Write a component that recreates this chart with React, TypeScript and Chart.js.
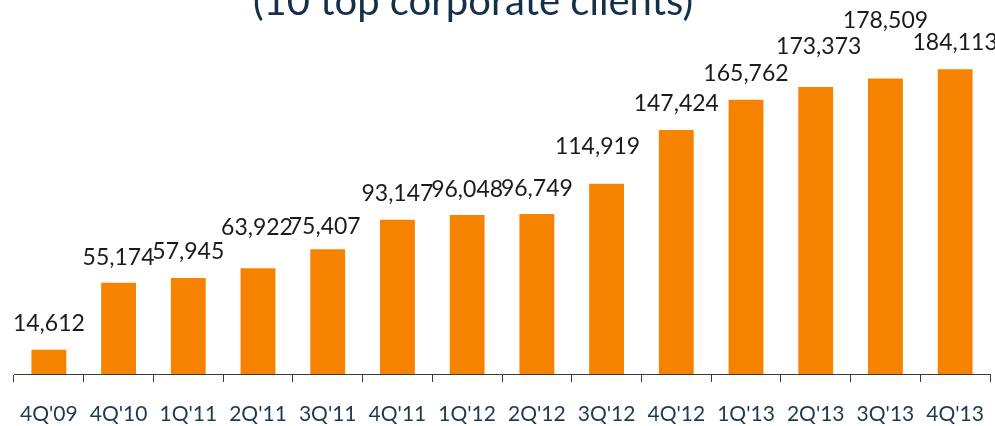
import React, { useEffect, useRef } from "react";
import { Chart, registerables } from "chart.js";

Chart.register(...registerables);

const categories = ["4Q'09", "4Q'10", "1Q'11", "2Q'11", "3Q'11", "4Q'11", "1Q'12", "2Q'12", "3Q'12", "4Q'12", "1Q'13", "2Q'13", "3Q'13", "4Q'13"];
const clientValues = [14612, 55174, 57945, 63922, 75407, 93147, 96048, 96749, 114919, 147424, 165762, 173373, 178509, 184113];
const titleText = "(10 top corporate clients)";

// label styling: vertical gap above bar top, horizontal nudge (px)
const labelGap = [19, 18, 19, 33, 15, 19, 18, 18, 30, 19, 19, 33, 51, 19];
const labelNudge = [0, 0, 0, -1, -3, 0, 0, 0, -9, 0, 0, 3, 0, 0];

const FONT = "Lato, 'Open Sans', sans-serif";

const valueLabels = {
  id: "valueLabels",
  afterDatasetsDraw(chart: any) {
    const ctx = chart.ctx;
    const meta = chart.getDatasetMeta(0);
    ctx.save();
    ctx.font = `23px ${FONT}`;
    ctx.fillStyle = "#1b1b1b";
    ctx.textAlign = "center";
    ctx.textBaseline = "alphabetic";
    meta.data.forEach((bar: any, i: number) => {
      const v = clientValues[i];
      ctx.fillText(v.toLocaleString("en-US"), bar.x + labelNudge[i], bar.y - labelGap[i]);
    });
    ctx.restore();
  },
};

const topTitle = {
  id: "topTitle",
  afterDraw(chart: any) {
    const ctx = chart.ctx;
    ctx.save();
    ctx.font = `40px ${FONT}`;
    ctx.fillStyle = "#14304a";
    ctx.textAlign = "center";
    ctx.textBaseline = "alphabetic";
    ctx.fillText(titleText, 473, 15);
    ctx.restore();
  },
};

export default function App() {
  const ref = useRef<HTMLCanvasElement>(null);
  useEffect(() => {
    document.body.style.margin = "0";
    const chart = new Chart(ref.current!, {
      type: "bar",
      data: {
        labels: categories,
        datasets: [
          {
            data: clientValues,
            backgroundColor: "#f68300",
            barPercentage: 0.5,
            categoryPercentage: 1.0,
          },
        ],
      },
      options: {
        animation: false,
        responsive: false,
        maintainAspectRatio: false,
        layout: { padding: { left: 14, right: 5, top: 43, bottom: 0 } },
        plugins: { legend: { display: false }, tooltip: { enabled: false }, title: { display: false } },
        scales: {
          x: {
            offset: true,
            afterFit(scale: any) {
              scale.height = 52;
              scale.paddingLeft = 0;
              scale.paddingRight = 0;
            },
            grid: {
              display: true,
              offset: true,
              drawOnChartArea: false,
              drawTicks: true,
              tickLength: 8,
              color: "#3a3a3a",
            },
            border: { display: true, color: "#3a3a3a", width: 1 },
            ticks: {
              color: "#1f3a50",
              font: { family: FONT, size: 21 },
              padding: 20,
              maxRotation: 0,
              autoSkip: false,
            },
          },
          y: {
            display: false,
            min: 0,
            max: 200000,
          },
        },
      },
      plugins: [valueLabels, topTitle],
    });
    return () => chart.destroy();
  }, []);
  return <canvas ref={ref} width={995} height={426} style={{ display: "block" }} />;
}
